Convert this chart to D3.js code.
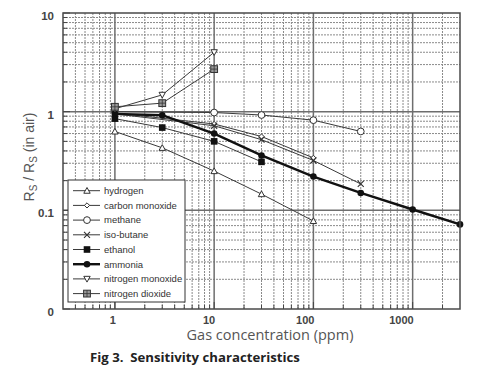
<!DOCTYPE html>
<html>
<head>
<meta charset="utf-8">
<script src="https://cdn.jsdelivr.net/npm/d3@7"></script>
<style>
  body { margin: 0; background: #fff; }
  svg { display: block; }
</style>
</head>
<body>
<svg id="chart" width="485" height="389"></svg>
<script>
// Sensitivity characteristics
const gasNames = ["hydrogen", "carbon monoxide", "methane", "iso-butane",
    "ethanol", "ammonia", "nitrogen monoxide", "nitrogen dioxide"];

const hydrogenPpm = [1, 3, 10, 30, 100];
const hydrogenRatio = [0.63, 0.43, 0.25, 0.146, 0.078];

const coPpm = [1, 10, 30, 100];
const coRatio = [0.97, 0.75, 0.56, 0.34];

const methanePpm = [1, 10, 30, 100, 300];
const methaneRatio = [1.0, 0.98, 0.925, 0.82, 0.63];

const butanePpm = [1, 10, 30, 100, 300];
const butaneRatio = [0.95, 0.72, 0.52, 0.32, 0.185];

const ethanolPpm = [1, 3, 10, 30];
const ethanolRatio = [0.85, 0.69, 0.50, 0.31];

const ammoniaPpm = [1, 3, 10, 30, 100, 300, 1000, 3000];
const ammoniaRatio = [0.95, 0.92, 0.60, 0.36, 0.22, 0.15, 0.102, 0.072];

const noPpm = [1, 3, 10];
const noRatio = [1.07, 1.48, 4.0];

const no2Ppm = [1, 3, 10];
const no2Ratio = [1.12, 1.22, 2.7];

const xTickValues = [1, 10, 100, 1000];
const xTickLabels = ["1", "10", "100", "1000"];
const yTickValues = [10, 1, 0.1, 0.01];
const yTickLabels = ["10", "1", "0.1", "0"];

const markerTypes = ["triUp", "diamond", "circle", "cross", "square", "dot", "triDown", "gridSquare"];

const zip = (xs, ys) => xs.map((x, i) => ({x: x, y: ys[i]}));
const series = [
    zip(hydrogenPpm, hydrogenRatio),
    zip(coPpm, coRatio),
    zip(methanePpm, methaneRatio),
    zip(butanePpm, butaneRatio),
    zip(ethanolPpm, ethanolRatio),
    zip(ammoniaPpm, ammoniaRatio),
    zip(noPpm, noRatio),
    zip(no2Ppm, no2Ratio)
].map((pts, i) => ({name: gasNames[i], marker: markerTypes[i], points: pts}));

const margin = {top: 13, right: 25, bottom: 80, left: 63};
const width = 485, height = 389;

const svg = d3.select("#chart");

const x = d3.scaleLog()
    .domain([0.3, 3000])
    .range([margin.left, width - margin.right]);

const y = d3.scaleLog()
    .domain([0.01, 10])
    .range([height - margin.bottom, margin.top]);

const x0 = x.range()[0], x1 = x.range()[1];
const y0 = y.range()[0], y1 = y.range()[1];

// minor ticks 2..9 of every decade inside the domain
const minorTicks = (scale) => {
    const [lo, hi] = scale.domain();
    const out = [];
    for (let e = -3; e <= 4; e++) {
        for (let m = 2; m <= 9; m++) {
            const v = m * Math.pow(10, e);
            if (v > lo * 1.0001 && v < hi * 0.9999) out.push(v);
        }
    }
    return out;
};

const grid = svg.append("g");

grid.selectAll(".xminor")
    .data(minorTicks(x))
    .enter().append("line")
        .attr("x1", d => x(d)).attr("x2", d => x(d))
        .attr("y1", y1).attr("y2", y0)
        .attr("stroke", "#8a8a8a")
        .attr("stroke-width", 1)
        .attr("stroke-dasharray", "2,1");

grid.selectAll(".yminor")
    .data(minorTicks(y))
    .enter().append("line")
        .attr("x1", x0).attr("x2", x1)
        .attr("y1", d => y(d)).attr("y2", d => y(d))
        .attr("stroke", "#8a8a8a")
        .attr("stroke-width", 1)
        .attr("stroke-dasharray", "2,1");

grid.selectAll(".xmajor")
    .data(xTickValues)
    .enter().append("line")
        .attr("x1", d => x(d)).attr("x2", d => x(d))
        .attr("y1", y1).attr("y2", y0)
        .attr("stroke", "#6e6e6e")
        .attr("stroke-width", 1.5);

grid.selectAll(".ymajor")
    .data([1, 0.1])
    .enter().append("line")
        .attr("x1", x0).attr("x2", x1)
        .attr("y1", d => y(d)).attr("y2", d => y(d))
        .attr("stroke", "#6e6e6e")
        .attr("stroke-width", 1.5);

// series lines
const line = d3.line()
    .x(d => x(d.x))
    .y(d => y(d.y));

const plot = svg.append("g");

plot.selectAll("path.series")
    .data(series)
    .enter().append("path")
        .attr("class", "series")
        .attr("d", d => line(d.points))
        .attr("fill", "none")
        .attr("stroke", d => d.name === "ammonia" ? "#111" : "#3a3a3a")
        .attr("stroke-width", d => d.name === "ammonia" ? 2.4 : 1);

const drawMarker = (g, type) => {
    const s = 3.2;
    const open = {fill: "#fff", stroke: "#333", "stroke-width": 1};
    const apply = (sel, attrs) => { Object.entries(attrs).forEach(([k, v]) => sel.attr(k, v)); return sel; };
    if (type === "triUp") {
        apply(g.append("path").attr("d", `M0,${-s}L${s},${s * 0.8}L${-s},${s * 0.8}Z`), open);
    } else if (type === "triDown") {
        apply(g.append("path").attr("d", `M0,${s}L${s},${-s * 0.8}L${-s},${-s * 0.8}Z`), open);
    } else if (type === "diamond") {
        apply(g.append("path").attr("d", `M0,${-2.6}L2.6,0L0,2.6L-2.6,0Z`), open);
    } else if (type === "circle") {
        apply(g.append("circle").attr("r", 3.4), open);
    } else if (type === "cross") {
        g.append("path").attr("d", `M-3,-3L3,3M-3,3L3,-3`)
            .attr("stroke", "#333").attr("stroke-width", 1.1);
    } else if (type === "square") {
        g.append("rect").attr("x", -3.3).attr("y", -3.3).attr("width", 6.6).attr("height", 6.6)
            .attr("fill", "#111");
    } else if (type === "dot") {
        g.append("circle").attr("r", 3.3).attr("fill", "#111");
    } else if (type === "gridSquare") {
        g.append("rect").attr("x", -3.4).attr("y", -3.4).attr("width", 6.8).attr("height", 6.8)
            .attr("fill", "#999").attr("stroke", "#333").attr("stroke-width", 1);
        g.append("path").attr("d", "M0,-3.4V3.4M-3.4,0H3.4")
            .attr("stroke", "#333").attr("stroke-width", 0.8);
    }
};

series.forEach(sr => {
    plot.append("g").selectAll("g")
        .data(sr.points)
        .enter().append("g")
            .attr("transform", d => `translate(${x(d.x)},${y(d.y)})`)
            .each(function() { drawMarker(d3.select(this), sr.marker); });
});

// inner ticks on left and bottom
const ticks = svg.append("g").attr("stroke", "#444");
minorTicks(x).concat(xTickValues).forEach(v => {
    const len = xTickValues.includes(v) ? 7 : 4;
    ticks.append("line").attr("x1", x(v)).attr("x2", x(v)).attr("y1", y0).attr("y2", y0 - len);
});
minorTicks(y).concat(yTickValues).forEach(v => {
    const len = yTickValues.includes(v) ? 7 : 4;
    ticks.append("line").attr("x1", x0).attr("x2", x0 + len).attr("y1", y(v)).attr("y2", y(v));
});

// legend box drawn over the grid
const leg = {x: 68, y: 180, w: 117, h: 122, row: 14.7};
const legend = svg.append("g");
legend.append("rect")
    .attr("x", leg.x).attr("y", leg.y)
    .attr("width", leg.w).attr("height", leg.h)
    .attr("fill", "#fff")
    .attr("stroke", "#333")
    .attr("stroke-width", 1);

const rows = legend.selectAll("g.row")
    .data(series)
    .enter().append("g")
        .attr("class", "row")
        .attr("transform", (d, i) => `translate(0,${leg.y + 10.7 + i * leg.row})`);

rows.append("line")
    .attr("x1", 73).attr("x2", 100)
    .attr("stroke", d => d.name === "ammonia" ? "#111" : "#3a3a3a")
    .attr("stroke-width", d => d.name === "ammonia" ? 2.4 : 1);

rows.append("g")
    .attr("transform", "translate(87,0)")
    .each(function(d) { drawMarker(d3.select(this), d.marker); });

rows.append("text")
    .attr("x", 104)
    .attr("dy", "0.35em")
    .attr("font-family", "Liberation Sans, Arial, sans-serif")
    .attr("font-size", 9.5)
    .attr("fill", "#333")
    .text(d => d.name);

// plot frame
svg.append("rect")
    .attr("x", x0).attr("y", y1)
    .attr("width", x1 - x0).attr("height", y0 - y1)
    .attr("fill", "none")
    .attr("stroke", "#4a4a4a")
    .attr("stroke-width", 1.5);

// tick labels
svg.append("g").selectAll("text")
    .data(xTickValues)
    .enter().append("text")
        .attr("x", d => x(d) + 1)
        .attr("y", y0 + 15)
        .attr("text-anchor", "end")
        .attr("font-family", "Liberation Sans, Arial, sans-serif")
        .attr("font-size", 11)
        .attr("font-weight", "bold")
        .attr("fill", "#444")
        .text((d, i) => xTickLabels[i]);

svg.append("g").selectAll("text")
    .data(yTickValues)
    .enter().append("text")
        .attr("x", 54)
        .attr("y", d => y(d) + 7)
        .attr("text-anchor", "end")
        .attr("font-family", "Liberation Sans, Arial, sans-serif")
        .attr("font-size", 11.5)
        .attr("font-weight", "bold")
        .attr("fill", "#444")
        .text((d, i) => yTickLabels[i]);

// axis titles
svg.append("text")
    .attr("x", 270)
    .attr("y", 340)
    .attr("text-anchor", "middle")
    .attr("font-family", "Open Sans, sans-serif")
    .attr("font-size", 14.5)
    .attr("fill", "#555")
    .text("Gas concentration (ppm)");

const yTitle = svg.append("text")
    .attr("transform", "translate(34,157) rotate(-90)")
    .attr("text-anchor", "middle")
    .attr("font-family", "Liberation Sans, Arial, sans-serif")
    .attr("font-size", 14)
    .attr("fill", "#555");
yTitle.append("tspan").text("R");
yTitle.append("tspan").attr("font-size", 10).attr("dy", 3).text("S");
yTitle.append("tspan").attr("dy", -3).text(" / R");
yTitle.append("tspan").attr("font-size", 10).attr("dy", 3).text("S");
yTitle.append("tspan").attr("dy", -3).text(" (in air)");

// caption
svg.append("text")
    .attr("x", 90)
    .attr("y", 362)
    .attr("font-family", "Open Sans, sans-serif")
    .attr("font-size", 13.2)
    .attr("font-weight", "bold")
    .attr("fill", "#222")
    .attr("xml:space", "preserve")
    .text("Fig 3.  Sensitivity characteristics");
</script>
</body>
</html>
